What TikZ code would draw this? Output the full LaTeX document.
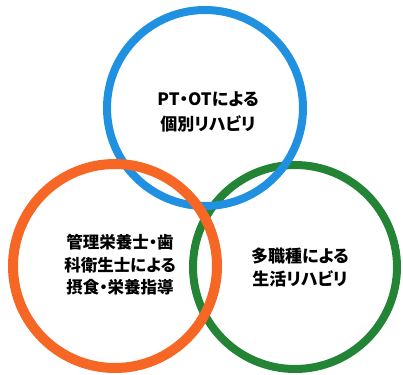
\documentclass[tikz,border=0pt]{standalone}
\usepackage{fontspec}
\newfontfamily\jpfont{Noto Sans CJK JP}[RawFeature=+palt]
\usepackage{tikz}
\definecolor{ringB}{RGB}{32,144,224}
\definecolor{ringO}{RGB}{246,102,36}
\definecolor{ringG}{RGB}{34,132,52}

\begin{document}
\begin{tikzpicture}[x=1pt,y=-1pt,
ring/.style ={line width=8pt},
txt/.style={align=center, inner sep=0pt, font=\jpfont\bfseries\fontsize{17}{25}\selectfont},
txtsmall/.style={align=center, inner sep=0pt, font=\jpfont\bfseries\fontsize{16.5}{22.5}\selectfont}]

\useasboundingbox (0,0) rectangle (403,374);

\draw[ring, draw=ringG] (295,267) circle (102);
\draw[ring, draw=ringB] (205,108) circle (98);
\draw[ring, draw=ringO, line width=10pt] (115,266) circle (102);

\draw (208,112) node[txt] (Ind) {PT・OTによる\\個別リハビリ};
\draw (120,265) node[txtsmall] (Nut) {管理栄養士・歯\\科衛生士による\\摂食・栄養指導};
\draw (300,267) node[txt, font=\jpfont\bfseries\fontsize{17}{23}\selectfont] (Life) {多職種による\\生活リハビリ};

\end{tikzpicture}
\end{document}
